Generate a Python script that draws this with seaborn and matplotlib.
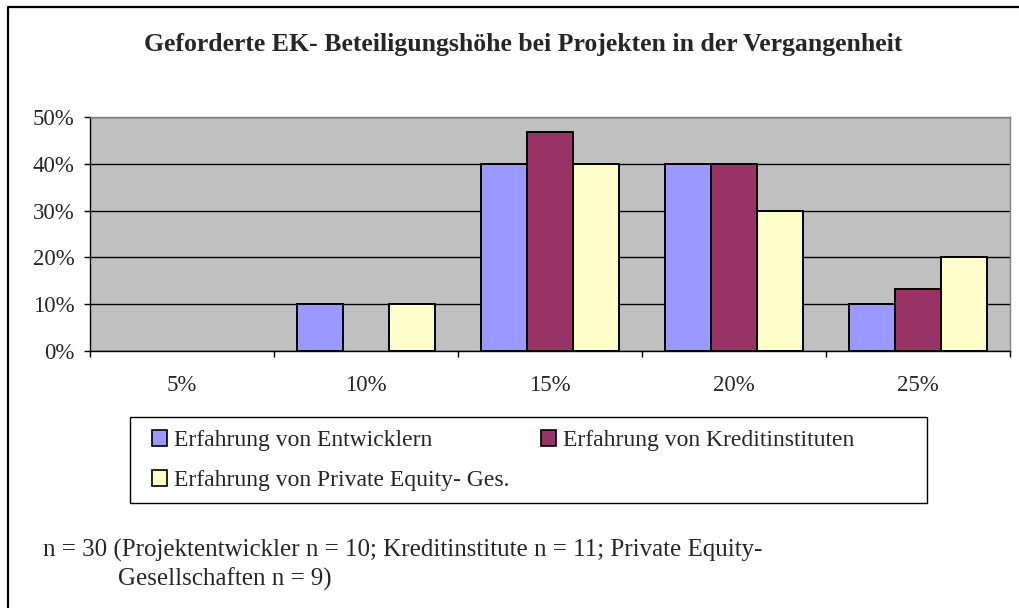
import numpy as np
import pandas as pd
import matplotlib
matplotlib.use("Agg")
import matplotlib.pyplot as plt
import seaborn as sns
from matplotlib.patches import Patch, Rectangle
from matplotlib.lines import Line2D

# ---- data ----
categories = ["5%", "10%", "15%", "20%", "25%"]
series = ["Erfahrung von Entwicklern",
          "Erfahrung von Kreditinstituten",
          "Erfahrung von Private Equity- Ges."]
entwickler = [0, 10, 40, 40, 10]
kredit = [0, 0, 46.7, 40, 13.3]
private_equity = [0, 10, 40, 30, 20]
yticks = [0, 10, 20, 30, 40, 50]
ytick_labels = ["0%", "10%", "20%", "30%", "40%", "50%"]
colors = ["#9999FF", "#993366", "#FFFFCC"]
title = "Geforderte EK- Beteiligungshöhe bei Projekten in der Vergangenheit"
note1 = "n = 30 (Projektentwickler n = 10; Kreditinstitute n = 11; Private Equity-"
note2 = "Gesellschaften n = 9)"

sns.set_theme(style="white")
plt.rcParams["font.family"] = ["Liberation Serif", "DejaVu Serif"]

df = pd.DataFrame({
    "Kategorie": categories * 3,
    "Wert": entwickler + kredit + private_equity,
    "Serie": [s for s in series for _ in categories],
})

W, H = 1020, 608
fig = plt.figure(figsize=(W / 100, H / 100), dpi=100)
fig.patch.set_facecolor("white")

def fx(px):
    return px / W

def fy(py):
    return 1 - py / H

ax = fig.add_axes([fx(90), fy(351), fx(1010) - fx(90), fy(117) - fy(351)])
ax.set_facecolor("#C0C0C0")

sns.barplot(data=df, x="Kategorie", y="Wert", hue="Serie", order=categories,
            hue_order=series, palette=colors, width=0.75, gap=0,
            saturation=1, edgecolor="black", linewidth=1.4, ax=ax,
            legend=False, errorbar=None, zorder=3)
for p in ax.patches:
    if p.get_height() == 0:
        p.set_visible(False)

ax.set_xlim(-0.5, len(categories) - 0.5)
ax.set_ylim(0, 50)
ax.set_xlabel("")
ax.set_ylabel("")
ax.set_axisbelow(True)
ax.yaxis.grid(True, color="black", linewidth=1.0)
ax.xaxis.grid(False)

ax.set_yticks(yticks)
ax.set_yticklabels(ytick_labels)
ax.tick_params(axis="y", direction="out", length=4, width=1, color="black",
               pad=7, labelsize=16.5, left=True)
ax.set_xticks(range(len(categories)))
ax.set_xticklabels(categories)
ax.set_xticks(np.arange(-0.5, len(categories), 1.0), minor=True)
ax.tick_params(axis="x", which="major", length=0, pad=17, labelsize=16.5)
ax.tick_params(axis="x", which="minor", direction="out", length=4, width=1,
               color="black", bottom=True)

for s in ["top", "right"]:
    ax.spines[s].set_color("#808080")
    ax.spines[s].set_linewidth(1.0)
for s in ["left", "bottom"]:
    ax.spines[s].set_color("black")
    ax.spines[s].set_linewidth(1.0)

# title
fig.text(fx(523), fy(45), title, ha="center", va="center",
         fontsize=18.5, fontweight="bold")

# legend
handles = [Patch(facecolor=colors[i], edgecolor="black", linewidth=1.2,
                 label=series[i]) for i in (0, 2, 1)]
fig.legend(handles=handles, loc="upper left",
           bbox_to_anchor=(fx(152), fy(430)), ncol=2, frameon=False,
           fontsize=17, handlelength=0.65, handleheight=0.65,
           handletextpad=0.3, columnspacing=1.3, labelspacing=0.8,
           borderpad=0, borderaxespad=0)
fig.add_artist(Rectangle((fx(130), fy(503)), fx(927) - fx(130), fy(417) - fy(503),
                         transform=fig.transFigure, facecolor="none",
                         edgecolor="black", linewidth=1.0))

# footnote
fig.text(fx(43), fy(557), note1, ha="left", va="baseline", fontsize=18)
fig.text(fx(118), fy(586), note2, ha="left", va="baseline", fontsize=18)

# outer frame (left and top edges visible)
fig.add_artist(Line2D([fx(8), fx(8), fx(1020)], [fy(608), fy(7), fy(7)],
                      transform=fig.transFigure, color="black", linewidth=1.6))

fig.savefig("out.png", dpi=100)
